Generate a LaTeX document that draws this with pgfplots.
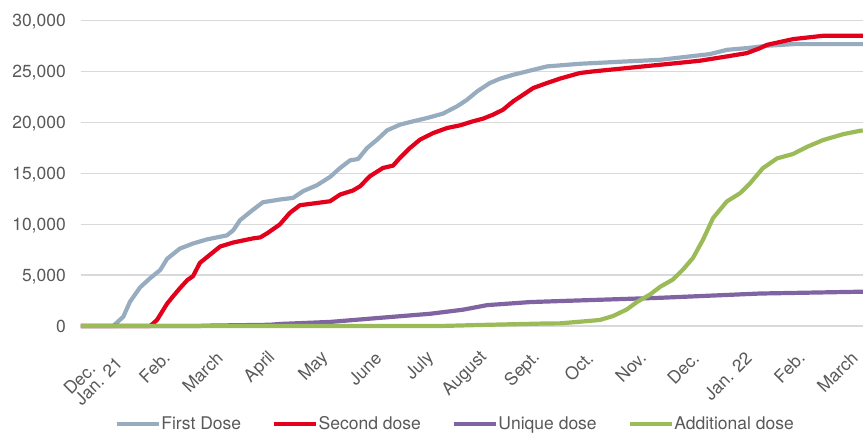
\documentclass[border=0pt]{standalone}
\usepackage{pgfplots}
\pgfplotsset{compat=1.18}
\usepackage{fontspec}
\setmainfont{TeX Gyre Heros}

\definecolor{firstc}{RGB}{152,172,192}
\definecolor{secondc}{RGB}{227,0,27}
\definecolor{uniquec}{RGB}{128,100,162}
\definecolor{addc}{RGB}{155,187,89}
\definecolor{gridc}{RGB}{217,217,217}
\definecolor{txtc}{RGB}{89,89,89}

\newcommand{\lblfont}{\fontsize{17.5}{15}\selectfont}

\begin{document}
\begin{tikzpicture}
\begin{axis}[
    scale only axis,
    width=782pt, height=305.5pt,
    xmin=-0.548, xmax=14.234,
    ymin=0, ymax=30000,
    xtick={0,...,14},
    xticklabels={{Dec.\\Jan. 21},Feb.,March,April,May,June,July,August,Sept.,Oct.,Nov.,Dec.,Jan. 22,Feb.,March},
    ytick={0,5000,...,30000},
    /pgf/number format/1000 sep={,},
    /pgf/number format/assume math mode=true,
    scaled y ticks=false,
    axis line style={draw=none},
    major tick length=0pt,
    ymajorgrids,
    major grid style={gridc, line width=1.3pt},
    tick label style={font=\lblfont, text=txtc},
    yticklabel style={anchor=east, inner sep=0pt, text depth=0pt, xshift=-15pt},
    xticklabel style={inner sep=0pt, yshift=-29pt, xshift=4pt, rotate=45, anchor=east, align=left},
    clip=false,
    every axis plot/.append style={line width=4.2pt, line join=round},
    legend columns=-1,
    legend style={draw=none, fill=none, font=\lblfont, text=txtc,
        at={(0.478,-0.321)}, anchor=center,
        nodes={inner xsep=1pt},
        /tikz/every even column/.append style={column sep=30pt}},
    legend image code/.code={\draw[#1, line width=3.6pt] (0pt,0pt) -- (42pt,0pt);},
]
\addplot[firstc] coordinates {
(-0.55,0) (0.06,0) (0.25,900) (0.38,2400) (0.57,3800) (0.76,4700) (0.95,5500)
(1.08,6600) (1.32,7600) (1.57,8100) (1.83,8500) (2.21,8900) (2.33,9400)
(2.46,10400) (2.70,11400) (2.89,12150) (3.21,12420) (3.46,12580) (3.65,13240)
(3.91,13820) (4.16,14640) (4.35,15520) (4.54,16270) (4.69,16400) (4.86,17480)
(5.05,18300) (5.24,19220) (5.48,19770) (5.73,20100) (5.99,20420) (6.29,20850)
(6.56,21570) (6.75,22220) (6.94,23040) (7.18,23860) (7.37,24280) (7.62,24670)
(7.88,25000) (8.26,25490) (8.64,25650) (8.88,25750) (9.26,25850) (9.64,25950)
(10.40,26140) (11.34,26700) (11.66,27120) (12.04,27290) (12.42,27520)
(12.91,27680) (14.23,27680)
};
\addlegendentry{First Dose}
\addplot[secondc] coordinates {
(-0.55,0) (0.76,0) (0.89,600) (1.08,2200) (1.19,2900) (1.32,3700) (1.46,4500)
(1.57,4900) (1.70,6200) (1.89,7000) (2.08,7800) (2.33,8200) (2.70,8600)
(2.84,8700) (2.97,9100) (3.21,9970) (3.40,11110) (3.59,11860) (3.84,12030)
(4.16,12250) (4.35,12910) (4.59,13300) (4.73,13730) (4.91,14700) (5.16,15520)
(5.35,15750) (5.48,16500) (5.67,17480) (5.86,18300) (6.11,18950) (6.37,19440)
(6.62,19710) (6.86,20100) (7.05,20360) (7.24,20750) (7.43,21240) (7.62,22060)
(7.81,22710) (8.00,23370) (8.26,23860) (8.51,24300) (8.88,24840) (9.13,25000)
(9.77,25330) (10.72,25820) (11.15,26050) (11.66,26470) (12.04,26800)
(12.29,27290) (12.42,27610) (12.91,28170) (13.48,28500) (14.23,28500)
};
\addlegendentry{Second dose}
\addplot[uniquec] coordinates {
(-0.55,0) (1.70,0) (1.76,30) (3.02,120) (3.21,200) (4.16,400) (5.10,800)
(6.05,1200) (6.67,1600) (7.13,2050) (7.94,2350) (8.51,2450) (10.40,2770)
(12.29,3190) (14.23,3370)
};
\addlegendentry{Unique dose}
\addplot[addc] coordinates {
(-0.55,0) (6.24,0) (6.99,100) (8.26,250) (8.51,260) (8.88,420) (9.26,590)
(9.51,980) (9.77,1630) (9.96,2350) (10.21,3100) (10.40,3850) (10.64,4560)
(10.83,5540) (11.02,6680) (11.21,8480) (11.40,10600) (11.66,12230)
(11.91,13040) (12.10,14020) (12.34,15490) (12.61,16460) (12.91,16890)
(13.18,17600) (13.48,18260) (13.86,18840) (14.18,19170) (14.23,19200)
};
\addlegendentry{Additional dose}
\end{axis}
\pgfresetboundingbox
\path (-81pt,-106pt) rectangle (782pt,326pt);
\end{tikzpicture}
\end{document}
